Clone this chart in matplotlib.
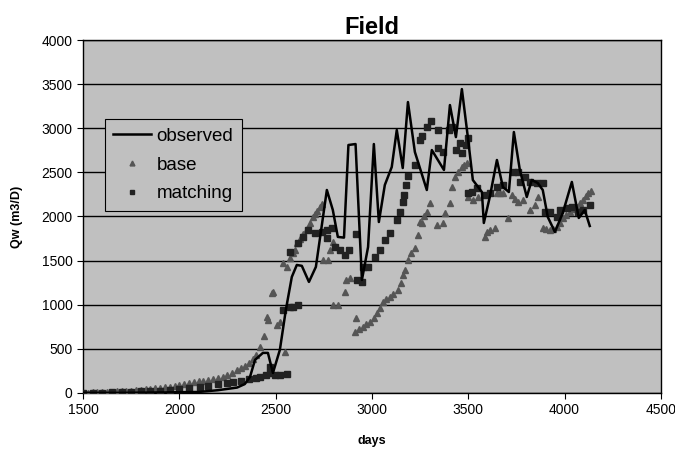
import matplotlib
matplotlib.use("Agg")
import matplotlib.pyplot as plt

plt.rcParams['font.family'] = ['Liberation Sans', 'DejaVu Sans']

# observed (line)
obs_days = [1500, 1700, 1900, 2100, 2200, 2300, 2340, 2367, 2393, 2434, 2460, 2486,
            2522, 2553, 2584, 2610, 2636, 2673, 2709, 2766, 2797, 2823, 2855, 2878,
            2915, 2948, 2980, 3010, 3036, 3067, 3103, 3129, 3160, 3187, 3223, 3285,
            3311, 3374, 3405, 3436, 3467, 3498, 3524, 3571, 3581, 3612, 3649, 3680,
            3711, 3737, 3768, 3804, 3830, 3861, 3887, 3913, 3950, 3991, 4038, 4074,
            4105, 4131]
obs_qw = [0, 0, 5, 10, 30, 60, 100, 181, 374, 453, 453, 226,
          487, 940, 1314, 1450, 1440, 1258, 1428, 2300, 2073, 1768, 1760, 2810,
          2821, 1280, 1654, 2821, 1937, 2357, 2561, 2980, 2549, 3297, 2731, 2300,
          2753, 2527, 3263, 2900, 3444, 2900, 2413, 2277, 1926, 2221, 2640, 2334,
          2277, 2957, 2527, 2221, 2413, 2379, 2300, 1994, 1824, 2040, 2391, 1983,
          2073, 1892]

# base (triangles)
base_days = [1500, 1525, 1550, 1575, 1600, 1625, 1650, 1675, 1700, 1725, 1750, 1775,
             1800, 1825, 1850, 1875, 1900, 1925, 1950, 1975, 2000, 2025, 2050, 2075,
             2100, 2125, 2150, 2175, 2200, 2225, 2250, 2275, 2300, 2320, 2340, 2360,
             2380, 2400, 2419, 2440, 2455, 2460, 2481, 2486, 2507, 2522, 2538, 2548,
             2558, 2574, 2590, 2600, 2610, 2625, 2641, 2662, 2678, 2695, 2704, 2714,
             2730, 2740, 2745, 2771, 2782, 2797, 2797, 2823, 2860, 2865, 2886, 2912,
             2917, 2935, 2953, 2970, 2990, 3010, 3026, 3040, 3057, 3075, 3093, 3110,
             3134, 3150, 3160, 3171, 3187, 3205, 3223, 3238, 3249, 3259, 3270, 3285,
             3301, 3337, 3368, 3379, 3405, 3415, 3431, 3446, 3467, 3480, 3493, 3498,
             3524, 3550, 3586, 3600, 3612, 3638, 3649, 3665, 3680, 3706, 3727, 3745,
             3758, 3784, 3820, 3846, 3861, 3887, 3905, 3923, 3940, 3960, 3975, 3991,
             4010, 4027, 4045, 4064, 4080, 4095, 4110, 4121, 4135]
base_qw = [0, 2, 5, 8, 10, 12, 15, 18, 20, 22, 25, 30,
           35, 40, 45, 50, 55, 62, 70, 80, 90, 100, 110, 120,
           130, 140, 150, 160, 170, 185, 200, 230, 260, 285, 310, 340,
           380, 430, 520, 640, 861, 827, 1133, 1144, 770, 804, 1473, 465,
           1428, 1530, 1586, 1620, 1700, 1750, 1800, 1860, 1926, 1990, 2030, 2060,
           2110, 2140, 1507, 1507, 1620, 997, 1711, 997, 1144, 1280, 1303, 691,
           850, 720, 748, 775, 800, 850, 900, 960, 1031, 1060, 1088, 1120,
           1167, 1250, 1337, 1394, 1507, 1580, 1643, 1790, 1937, 1926, 2000, 2051,
           2153, 1903, 1926, 2040, 2153, 2334, 2447, 2504, 2561, 2580, 2606, 2221,
           2187, 2221, 1768, 1820, 1847, 1870, 2266, 2266, 2266, 1983, 2243, 2200,
           2164, 2187, 2073, 2130, 2221, 1870, 1860, 1847, 1860, 1881, 1930, 1983,
           2020, 2051, 2080, 2107, 2150, 2187, 2230, 2266, 2290]

# matching (squares)
match_days = [1500, 1550, 1600, 1650, 1700, 1750, 1800, 1850, 1900, 1950, 2000, 2050,
              2107, 2150, 2200, 2250, 2278, 2320, 2360, 2400, 2419, 2450, 2471, 2471,
              2496, 2522, 2538, 2558, 2574, 2590, 2615, 2574, 2615, 2641, 2667, 2704,
              2740, 2766, 2792, 2766, 2808, 2834, 2860, 2880, 2917, 2922, 2948, 2953,
              2980, 3015, 3041, 3067, 3093, 3129, 3145, 3160, 3166, 3176, 3187, 3223,
              3249, 3259, 3285, 3306, 3342, 3342, 3368, 3399, 3415, 3436, 3456, 3467,
              3488, 3498, 3498, 3519, 3545, 3586, 3612, 3649, 3680, 3732, 3758, 3768,
              3794, 3820, 3856, 3887, 3897, 3923, 3960, 3975, 4012, 4038, 4069, 4095,
              4131]
match_qw = [0, 0, 2, 5, 8, 12, 16, 20, 25, 32, 40, 50,
            68, 80, 95, 110, 125, 140, 155, 170, 181, 200, 226, 295,
            204, 204, 940, 215, 974, 974, 997, 1598, 1700, 1768, 1847, 1813,
            1824, 1847, 1870, 1756, 1654, 1620, 1564, 1620, 1801, 1280, 1258, 1428,
            1428, 1541, 1620, 1733, 1813, 1960, 2051, 2164, 2243, 2357, 2459, 2583,
            2866, 2912, 3014, 3082, 2980, 2776, 2731, 2980, 3014, 2753, 2833, 2719,
            2810, 2889, 2266, 2277, 2323, 2243, 2266, 2334, 2357, 2504, 2504, 2391,
            2447, 2391, 2379, 2379, 2051, 2051, 1994, 2073, 2096, 2107, 2051, 2073,
            2130]

fig = plt.figure(figsize=(6.75, 4.5), dpi=100)
ax = fig.add_axes([0.123, 0.127, 0.856, 0.784])
ax.set_facecolor('#c0c0c0')

ax.plot(base_days, base_qw, linestyle='none', marker='^', markersize=5,
        color='#555555', label='base', zorder=3)
ax.plot(match_days, match_qw, linestyle='none', marker='s', markersize=5,
        color='#222222', label='matching', zorder=4)
ax.plot(obs_days, obs_qw, color='black', linewidth=1.8, label='observed', zorder=5)

ax.set_xlim(1500, 4500)
ax.set_ylim(0, 4000)
ax.set_xticks(range(1500, 4501, 500))
ax.set_yticks(range(0, 4001, 500))
ax.yaxis.grid(True, color='black', linewidth=1)
ax.set_axisbelow(True)
ax.tick_params(direction='out', length=4, labelsize=10, color='black')
for s in ax.spines.values():
    s.set_linewidth(1)

ax.set_title('Field', fontsize=17, fontweight='bold', pad=4)
ax.set_xlabel('days', fontsize=9, fontweight='bold', labelpad=13)
ax.set_ylabel('Qw (m3/D)', fontsize=9, fontweight='bold', labelpad=13)

h, l = ax.get_legend_handles_labels()
order = [2, 0, 1]
leg = ax.legend([h[i] for i in order], [l[i] for i in order],
                loc='upper left', bbox_to_anchor=(0.038, 0.775), fontsize=13.5,
                frameon=True, fancybox=False, facecolor='#c0c0c0',
                edgecolor='black', framealpha=1, handlelength=2.0,
                handletextpad=0.3, borderpad=0.45, labelspacing=0.62,
                markerscale=0.7, borderaxespad=0)
leg.get_frame().set_linewidth(0.8)

fig.savefig('out.png', dpi=100)
